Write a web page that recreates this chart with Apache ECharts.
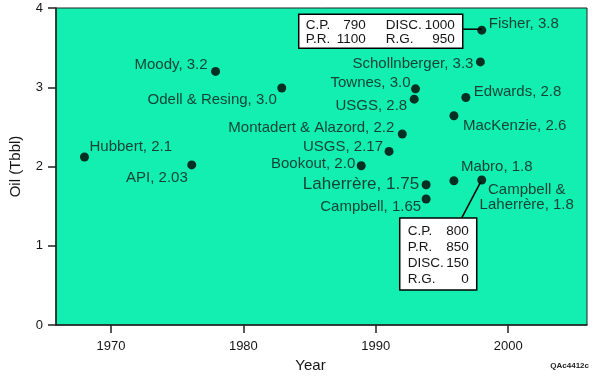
<!DOCTYPE html>
<html>
<head>
<meta charset="utf-8">
<script src="https://cdn.jsdelivr.net/npm/echarts@6/dist/echarts.min.js"></script>
<style>html,body{margin:0;padding:0;background:#fff}#c{width:600px;height:384px}</style>
</head>
<body>
<div id="c"></div>
<script>
// ---- data ----
const labels = ['Hubbert, 2.1','API, 2.03','Moody, 3.2','Odell & Resing, 3.0','Bookout, 2.0','USGS, 2.17',
  'Montadert & Alazord, 2.2','USGS, 2.8','Townes, 3.0','Laherrère, 1.75','Campbell, 1.65','Mabro, 1.8',
  'MacKenzie, 2.6','Edwards, 2.8','Schollnberger, 3.3','Fisher, 3.8','Campbell &\nLaherrère, 1.8'];
const years = [1968, 1976.1, 1977.9, 1982.9, 1988.9, 1991.0, 1992.0, 1992.9, 1993.0, 1993.8, 1993.8, 1995.9,
  1995.9, 1996.8, 1997.9, 1998.0, 1998.0];
const oil = [2.12, 2.02, 3.20, 2.99, 2.01, 2.19, 2.41, 2.85, 2.98, 1.77, 1.59, 1.82, 2.64, 2.87, 3.32, 3.72, 1.83];
const xTicks = [1970, 1980, 1990, 2000];
const yTicks = [0, 1, 2, 3, 4];
const topBoxRows = [['C.P.', '790', 'DISC.', '1000'], ['P.R.', '1100', 'R.G.', '950']];
const bottomBoxRows = [['C.P.', '800'], ['P.R.', '850'], ['DISC.', '150'], ['R.G.', '0']];

// ---- label placement (style) ----
const labelPlace = [[5,-10,'left'],[-4,13,'right'],[-8,-7,'right'],[-5,12,'right'],[-6,-2,'right'],[-6,-5,'right'],
  [-8,-6,'right'],[-7,7,'right'],[-5,-6,'right'],[-7,0,'right'],[-5,8,'right'],[7,-14,'left'],
  [9,10,'left'],[8,-6,'left'],[-7,2,'right'],[7,-6,'left'],[45,17,'center']];

const SYM = 9;
const FONT = 'Liberation Sans, Arial, Helvetica, sans-serif';
const TXT = '#151515';

const seriesData = years.map((y, i) => {
  const p = labelPlace[i];
  return {
    value: [y, oil[i]],
    name: labels[i],
    label: {
      show: true,
      formatter: labels[i],
      position: [SYM / 2 + p[0], SYM / 2 + p[1]],
      align: p[2],
      verticalAlign: 'middle',
      fontSize: i === 9 ? 17 : 15,
      lineHeight: 15,
      color: TXT,
      fontFamily: FONT
    }
  };
});

const chart = echarts.init(document.getElementById('c'), null, {renderer: 'canvas'});
chart.setOption({
  animation: false,
  backgroundColor: '#ffffff',
  grid: {left: 55, right: 13, top: 8, bottom: 59, show: true, backgroundColor: '#12efb0',
    borderColor: '#222', borderWidth: 1},
  xAxis: {
    type: 'value', min: 1965.85, max: 2005.95,
    name: 'Year', nameLocation: 'middle', nameGap: 31,
    nameTextStyle: {fontSize: 15, color: TXT, fontFamily: FONT, padding: [0, 22, 0, 0]},
    axisLine: {lineStyle: {color: '#222', width: 1.5}},
    axisTick: {show: true, length: 8, inside: false, customValues: xTicks, lineStyle: {color: '#222', width: 1.5}},
    axisLabel: {customValues: xTicks, fontSize: 13, color: TXT, margin: 15, fontFamily: FONT,
      formatter: v => String(v)},
    splitLine: {show: false}
  },
  yAxis: {
    type: 'value', min: 0, max: 4, interval: 1,
    name: 'Oil (Tbbl)', nameLocation: 'middle', nameGap: 33,
    nameTextStyle: {fontSize: 15, color: TXT, fontFamily: FONT},
    axisLine: {show: true, lineStyle: {color: '#222', width: 1.5}},
    axisTick: {show: true, length: 8, lineStyle: {color: '#222', width: 1.5}},
    axisLabel: {fontSize: 13, color: TXT, margin: 13, fontFamily: FONT, formatter: v => String(v)},
    splitLine: {show: false}
  },
  series: [{
    type: 'scatter',
    symbol: 'circle',
    symbolSize: SYM,
    itemStyle: {color: '#000'},
    data: seriesData,
    z: 5
  }]
});

// ---- annotation boxes anchored to data points ----
function boxText(x, y, t, align) {
  return {type: 'text', x: x, y: y, z: 20,
    style: {text: t, fill: TXT, font: '13.5px ' + FONT, textAlign: align, textVerticalAlign: 'middle'}};
}
const fI = labels.indexOf('Fisher, 3.8');
const cI = labels.indexOf('Campbell &\nLaherrère, 1.8');
const pf = chart.convertToPixel({gridIndex: 0}, [years[fI], oil[fI]]);
const pc = chart.convertToPixel({gridIndex: 0}, [years[cI], oil[cI]]);
const els = [];
// top box
els.push({type: 'line', z: 15, shape: {x1: pf[0] - 19, y1: pf[1] - 1, x2: pf[0], y2: pf[1] - 1}, style: {stroke: '#000', lineWidth: 1.5}});
els.push({type: 'rect', z: 15, shape: {x: pf[0] - 183, y: pf[1] - 16, width: 164, height: 34}, style: {fill: '#fff', stroke: '#000', lineWidth: 1.5}});
topBoxRows.forEach((r, k) => {
  const yy = pf[1] - 5 + k * 14;
  els.push(boxText(pf[0] - 176, yy, r[0], 'left'));
  els.push(boxText(pf[0] - 116, yy, r[1], 'right'));
  els.push(boxText(pf[0] - 96, yy, r[2], 'left'));
  els.push(boxText(pf[0] - 27, yy, r[3], 'right'));
});
// bottom box
els.push({type: 'line', z: 15, shape: {x1: pc[0] - 20, y1: pc[1] + 38, x2: pc[0] - 1, y2: pc[1] + 2}, style: {stroke: '#000', lineWidth: 1.5}});
els.push({type: 'rect', z: 15, shape: {x: pc[0] - 82, y: pc[1] + 38, width: 77, height: 72}, style: {fill: '#fff', stroke: '#000', lineWidth: 1.5}});
bottomBoxRows.forEach((r, k) => {
  const yy = pc[1] + 51 + k * 16;
  els.push(boxText(pc[0] - 74, yy, r[0], 'left'));
  els.push(boxText(pc[0] - 13, yy, r[1], 'right'));
});
// figure code
els.push({type: 'text', right: 11, top: 362, z: 20,
  style: {text: 'QAc4412c', fill: '#222', font: 'bold 8px ' + FONT}});
chart.setOption({graphic: {elements: els}});
</script>
</body>
</html>
